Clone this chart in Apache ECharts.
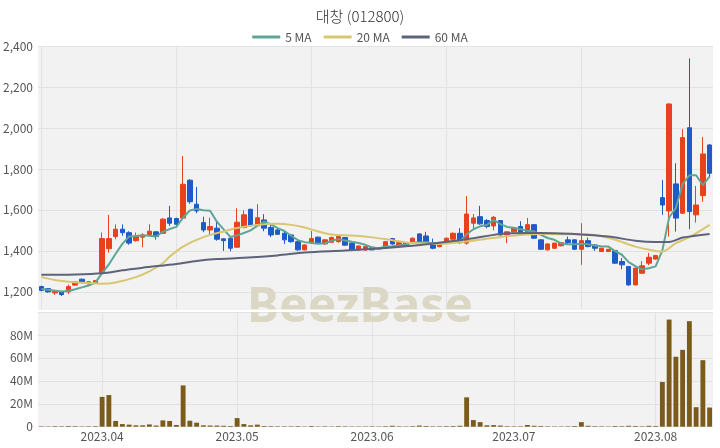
<!DOCTYPE html>
<html><head><meta charset="utf-8">
<script src="https://cdn.jsdelivr.net/npm/echarts@6/dist/echarts.min.js"></script>
<style>html,body{margin:0;padding:0;background:#fff}#c{width:720px;height:448px}</style>
</head><body><div id="c"></div>
<script>
const dates = [
'2023-03-21','2023-03-22','2023-03-23','2023-03-24','2023-03-27','2023-03-28','2023-03-29','2023-03-30','2023-03-31',
'2023-04-03','2023-04-04','2023-04-05','2023-04-06','2023-04-07','2023-04-10','2023-04-11','2023-04-12','2023-04-13','2023-04-14',
'2023-04-17','2023-04-18','2023-04-19','2023-04-20','2023-04-21','2023-04-24','2023-04-25','2023-04-26','2023-04-27','2023-04-28',
'2023-05-02','2023-05-03','2023-05-04','2023-05-08','2023-05-09','2023-05-10','2023-05-11','2023-05-12','2023-05-15','2023-05-16',
'2023-05-17','2023-05-18','2023-05-19','2023-05-22','2023-05-23','2023-05-24','2023-05-25','2023-05-26','2023-05-30','2023-05-31',
'2023-06-01','2023-06-02','2023-06-05','2023-06-07','2023-06-08','2023-06-09','2023-06-12','2023-06-13','2023-06-14','2023-06-15',
'2023-06-16','2023-06-19','2023-06-20','2023-06-21','2023-06-22','2023-06-23','2023-06-26','2023-06-27','2023-06-28','2023-06-29','2023-06-30',
'2023-07-03','2023-07-04','2023-07-05','2023-07-06','2023-07-07','2023-07-10','2023-07-11','2023-07-12','2023-07-13','2023-07-14',
'2023-07-17','2023-07-18','2023-07-19','2023-07-20','2023-07-21','2023-07-24','2023-07-25','2023-07-26','2023-07-27','2023-07-28','2023-07-31',
'2023-08-01','2023-08-02','2023-08-03','2023-08-04','2023-08-07','2023-08-08','2023-08-09','2023-08-10','2023-08-11'];

const opens = [1226,1216,1195,1200,1200,1233,1262,1239,1242,1294, 1411,1470,1506,1489,1450,1467,1480,1493,1486,1561,
 1558,1560,1745,1628,1538,1502,1511,1459,1462,1418, 1514,1603,1523,1551,1514,1502,1486,1478,1445,1405,
 1443,1467,1434,1442,1445,1465,1438,1405,1405,1418, 1415,1424,1460,1428,1438,1440,1483,1473,1440,1421,
 1440,1457,1486,1438,1535,1567,1548,1522,1548,1478, 1493,1519,1486,1528,1454,1405,1413,1425,1454,1454,
 1408,1450,1429,1397,1397,1401,1348,1324,1234,1291, 1340,1360,1660,1595,1727,1584,2001,1576,1670,1917];

const closes = [1207,1200,1203,1187,1226,1249,1245,1249,1255,1460, 1460,1506,1489,1438,1470,1477,1496,1470,1555,1535,
 1530,1725,1640,1595,1502,1519,1457,1450,1413,1540, 1576,1523,1562,1511,1478,1481,1454,1445,1405,1429,
 1460,1438,1454,1465,1470,1428,1405,1424,1421,1405, 1410,1445,1434,1440,1425,1462,1445,1440,1413,1438,
 1462,1486,1440,1580,1561,1532,1519,1564,1478,1493, 1512,1483,1528,1462,1408,1434,1438,1440,1441,1408,
 1450,1421,1413,1413,1408,1340,1332,1234,1316,1327, 1369,1377,1624,2117,1560,1953,1592,1624,1873,1779];

const lows = [1203,1196,1185,1180,1190,1230,1242,1236,1240,1290, 1392,1457,1474,1430,1445,1418,1480,1455,1483,1522,
 1519,1557,1630,1584,1491,1474,1450,1400,1398,1416, 1510,1520,1520,1496,1467,1478,1434,1440,1400,1403,
 1438,1435,1430,1440,1440,1425,1402,1403,1400,1403, 1408,1421,1430,1425,1423,1438,1442,1436,1408,1418,
 1438,1455,1435,1430,1511,1528,1510,1500,1475,1438, 1490,1480,1483,1460,1405,1402,1410,1422,1430,1405,
 1332,1418,1400,1395,1395,1338,1310,1230,1232,1289, 1330,1358,1576,1470,1494,1580,1506,1538,1640,1760];

const highs = [1230,1219,1210,1203,1236,1252,1265,1252,1258,1490, 1576,1529,1529,1496,1489,1486,1530,1496,1560,1620,
 1562,1863,1750,1712,1567,1562,1545,1462,1470,1608, 1598,1606,1628,1579,1528,1510,1497,1483,1450,1432,
 1497,1470,1457,1470,1475,1468,1440,1426,1428,1420, 1417,1448,1463,1442,1440,1465,1486,1493,1460,1440,
 1465,1490,1511,1668,1580,1620,1555,1570,1550,1495, 1515,1545,1561,1530,1456,1436,1440,1442,1470,1456,
 1535,1465,1432,1415,1410,1403,1365,1326,1318,1350, 1390,1380,1746,2120,1828,1994,2340,1717,1955,1921];

// volume in millions of shares
const volumesM = [0.4,0.3,0.5,0.4,0.6,0.5,0.3,0.4,0.5,26, 27.6,5,2.3,1.8,1.2,1.2,2,1,5.5,5,
 1.5,36,5.2,3.5,1.2,1,1,0.8,0.6,7.5, 2.3,1.2,1.8,0.6,0.5,0.4,0.4,0.4,0.5,0.3,
 0.6,0.3,0.4,0.3,0.5,0.4,0.3,0.3,0.3,0.4, 0.3,0.5,0.8,0.4,0.3,0.5,1.0,0.6,0.4,0.4,
 0.5,0.6,0.8,25.6,5.8,4,1.2,1.4,1,0.5, 0.4,0.4,1.5,0.8,0.6,0.4,0.3,0.3,0.4,0.6,
 4,0.8,0.5,0.4,0.3,0.6,0.5,0.8,0.6,0.4, 0.8,0.6,39,93.4,61,67,92,17,58,16.7];

// 5 MA for the first four days (needs closes before the window)
const ma5Head = [1214,1210,1206,1202];
// 20 MA and 60 MA: [day index, value]
const ma20Points = [[0,1272],[2,1258],[4,1250],[6,1245],[9,1240],[11,1246],[14,1272],[16,1300],[18,1340],[19,1372],
 [21,1421],[23,1454],[25,1478],[27,1495],[29,1512],[32,1527],[35,1532],[37,1527],[39,1514],[41,1495],[43,1480],
 [46,1475],[49,1466],[52,1452],[55,1438],[59,1434],[64,1450],[69,1472],[74,1483],[79,1481],[82,1478],[85,1454],
 [88,1421],[91,1400],[92,1397],[94,1438],[96,1467],[99,1527]];
const ma60Points = [[0,1283],[5,1285],[9,1291],[12,1305],[15,1318],[20,1336],[23,1351],[26,1360],[30,1366],[35,1378],
 [39,1392],[45,1402],[50,1412],[55,1425],[59,1440],[64,1462],[68,1483],[72,1487],[76,1486],[79,1483],[84,1470],
 [88,1450],[91,1444],[93,1444],[95,1465],[99,1483]];

const UP = '#e8411b', DOWN = '#1f5bc6';
const C5 = '#5ea596', C20 = '#d9c671', C60 = '#5d6479';
const FONT = "'Noto Sans CJK KR', 'Noto Sans', sans-serif";

const candles = dates.map((d, i) => [opens[i], closes[i], lows[i], highs[i]]);
const ma5 = closes.map((c, i) => {
  if (i < 4) return ma5Head[i];
  let s = 0; for (let k = i - 4; k <= i; k++) s += closes[k];
  return Math.round(s / 5 * 10) / 10;
});
const volumes = volumesM.map(v => v * 1e6);
const monthStart = dates.map((d, i) => i > 0 && d.slice(5, 7) !== dates[i - 1].slice(5, 7));

const chart = echarts.init(document.getElementById('c'), null, {renderer: 'canvas'});
const gridLine = {color: '#e2e2e2', width: 1};
chart.setOption({
  animation: false,
  backgroundColor: '#fff',
  textStyle: {fontFamily: FONT},
  title: {
    text: '대창 (012800)', left: 'center', top: 4,
    textStyle: {fontSize: 15, fontWeight: 300, color: '#333', fontFamily: FONT}
  },
  legend: {
    top: 26, left: 'center', icon: 'rect', itemWidth: 28, itemHeight: 3, itemGap: 12,
    textStyle: {fontSize: 12, color: '#555', fontFamily: FONT},
    data: ['5 MA', '20 MA', '60 MA']
  },
  grid: [
    {left: 38, right: 7, top: 46, height: 263.5, show: true, backgroundColor: '#f2f2f2', borderWidth: 0},
    {left: 38, right: 7, top: 312, height: 114.7, show: true, backgroundColor: '#f2f2f2', borderWidth: 0}
  ],
  graphic: [
    {type: 'text', left: 'center', top: 284, z: 1, silent: true,
     style: {text: 'BeezBase', fontSize: 48, fontWeight: 'bold', fontFamily: "'Noto Sans', sans-serif", fill: '#dbd7c5'}},
    {type: 'rect', left: 38, top: 309.5, z: 1.5, silent: true,
     shape: {width: 675, height: 2.5}, style: {fill: '#ffffff'}}
  ],
  xAxis: [
    {type: 'category', gridIndex: 0, data: dates, boundaryGap: true,
     axisLine: {show: false}, axisTick: {show: false, alignWithLabel: true}, axisLabel: {show: false},
     splitLine: {show: true, interval: (i) => i % 20 === 0, alignWithLabel: true, lineStyle: gridLine}},
    {type: 'category', gridIndex: 1, data: dates, boundaryGap: true,
     axisLine: {show: false}, axisTick: {show: false, alignWithLabel: true},
     axisLabel: {interval: (i) => monthStart[i], formatter: (v) => v.slice(0, 7).replace('-', '.'),
                 color: '#555', fontSize: 12, margin: 4, fontFamily: FONT},
     splitLine: {show: true, interval: (i) => monthStart[i], alignWithLabel: true, lineStyle: gridLine}}
  ],
  yAxis: [
    {type: 'value', gridIndex: 0, min: 1114, max: 2400, splitNumber: 6,
     axisLine: {show: false}, axisTick: {show: false},
     axisLabel: {showMinLabel: false, color: '#555', fontSize: 12, margin: 5, fontFamily: FONT,
                 formatter: (v) => v.toLocaleString('en-US')},
     splitLine: {show: true, lineStyle: gridLine}},
    {type: 'value', gridIndex: 1, min: 0, max: 1e8, interval: 2e7,
     axisLine: {show: false}, axisTick: {show: false},
     axisLabel: {showMaxLabel: false, color: '#555', fontSize: 12, margin: 5, fontFamily: FONT,
                 formatter: (v) => v === 0 ? '0' : (v / 1e6) + 'M'},
     splitLine: {show: true, lineStyle: gridLine}}
  ],
  series: [
    {type: 'candlestick', name: 'price', xAxisIndex: 0, yAxisIndex: 0, data: candles, barWidth: '72%',
     itemStyle: {color: UP, color0: DOWN, borderColor: UP, borderColor0: DOWN, borderWidth: 1}},
    {type: 'line', name: '5 MA', xAxisIndex: 0, yAxisIndex: 0, data: ma5, showSymbol: false,
     lineStyle: {color: C5, width: 2}, itemStyle: {color: C5}},
    {type: 'line', name: '20 MA', xAxisIndex: 0, yAxisIndex: 0, data: ma20Points, showSymbol: false, smooth: 0.3,
     lineStyle: {color: C20, width: 2}, itemStyle: {color: C20}},
    {type: 'line', name: '60 MA', xAxisIndex: 0, yAxisIndex: 0, data: ma60Points, showSymbol: false, smooth: 0.3,
     lineStyle: {color: C60, width: 2}, itemStyle: {color: C60}},
    {type: 'bar', name: 'volume', xAxisIndex: 1, yAxisIndex: 1, data: volumes, barWidth: '72%',
     itemStyle: {color: '#7a5b1b'}}
  ]
});
</script>
</body></html>
